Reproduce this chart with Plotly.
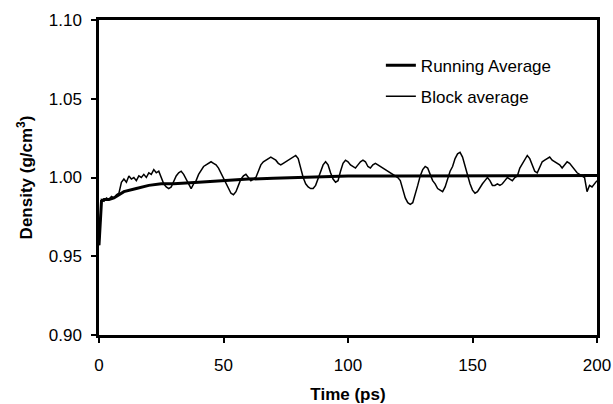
import plotly.graph_objects as go

time_block = [0, 0.5] + list(range(1, 201))
block_avg = [
    0.957, 0.975,
    0.986, 0.985, 0.987, 0.986, 0.988, 0.987, 0.989, 0.990, 0.997, 0.999,
    0.997, 1.001, 0.999, 1.000, 0.998, 1.001, 1.000, 1.002, 1.000, 1.003,
    1.002, 1.005, 1.003, 1.004, 1.000, 0.996, 0.994, 0.993, 0.994, 0.998,
    1.001, 1.003, 1.004, 1.002, 0.999, 0.996, 0.993, 0.996, 0.998, 1.002,
    1.005, 1.007, 1.008, 1.009, 1.010, 1.009, 1.008, 1.006, 1.003, 0.999,
    0.996, 0.993, 0.990, 0.989, 0.991, 0.995, 0.999, 1.001, 1.002, 1.000,
    0.998, 0.999, 1.000, 1.004, 1.008, 1.010, 1.011, 1.012, 1.013, 1.012,
    1.011, 1.009, 1.008, 1.009, 1.010, 1.011, 1.012, 1.013, 1.014, 1.012,
    1.006, 1.000, 0.996, 0.994, 0.993, 0.993, 0.995, 0.999, 1.003, 1.008,
    1.010, 1.008, 1.003, 0.999, 0.997, 0.998, 1.004, 1.009, 1.011, 1.010,
    1.008, 1.007, 1.006, 1.008, 1.010, 1.011, 1.010, 1.007, 1.006, 1.008,
    1.009, 1.008, 1.007, 1.006, 1.005, 1.004, 1.003, 1.002, 1.001, 1.000,
    0.998, 0.992, 0.987, 0.984, 0.983, 0.984, 0.989, 0.995, 1.001, 1.005,
    1.007, 1.006, 1.002, 0.998, 0.996, 0.993, 0.992, 0.991, 0.994, 0.999,
    1.004, 1.007, 1.012, 1.015, 1.016, 1.013, 1.007, 1.002, 0.996, 0.992,
    0.990, 0.991, 0.994, 0.996, 0.998, 1.000, 0.998, 0.995, 0.995, 0.996,
    0.995, 0.996, 0.998, 1.000, 0.999, 0.998, 1.000, 1.001, 1.006, 1.009,
    1.012, 1.014, 1.012, 1.008, 1.004, 1.003, 1.006, 1.010, 1.011, 1.012,
    1.013, 1.011, 1.010, 1.009, 1.008, 1.006, 1.008, 1.010, 1.009, 1.007,
    1.005, 1.003, 1.002, 1.001, 1.000, 0.991, 0.995, 0.994, 0.996, 0.998,
]

time_run = [0, 0.5, 1, 2, 4, 6, 8, 10, 15, 20, 25, 30, 40, 50, 60, 70, 80,
            90, 100, 120, 140, 160, 180, 200]
running_avg = [0.957, 0.975, 0.985, 0.986, 0.986, 0.987, 0.989, 0.991, 0.993,
               0.995, 0.996, 0.996, 0.997, 0.998, 0.999, 0.9995, 1.000,
               1.0005, 1.001, 1.001, 1.001, 1.0012, 1.0012, 1.0012]

x_ticks = [0, 50, 100, 150, 200]
y_ticks = [0.90, 0.95, 1.00, 1.05, 1.10]

FONT = "Liberation Sans, Arial, sans-serif"

fig = go.Figure()
fig.add_trace(go.Scatter(x=time_run, y=running_avg, mode="lines",
                         name="Running Average", legendgroup="a",
                         line=dict(color="black", width=3)))
fig.add_trace(go.Scatter(x=time_block, y=block_avg, mode="lines",
                         name="Block average", legendgroup="b",
                         line=dict(color="black", width=1.5)))

fig.update_layout(
    width=613, height=404,
    margin=dict(l=99, r=16, t=20, b=69),
    plot_bgcolor="white", paper_bgcolor="white",
    font=dict(family=FONT, size=17, color="black"),
    showlegend=True,
    legend=dict(x=0.566, y=0.912, xanchor="left", yanchor="top",
                bgcolor="rgba(0,0,0,0)", font=dict(size=17),
                traceorder="grouped", tracegroupgap=6),
    xaxis=dict(range=[0, 200], tickvals=x_ticks, ticks="outside", ticklen=5,
               tickcolor="black", tickwidth=1.5, showline=True,
               linecolor="black", automargin=False, ticklabelstandoff=8,
               linewidth=2.5, mirror=True, showgrid=False, zeroline=False,
               title=dict(text="<b>Time (ps)</b>", standoff=18,
                          font=dict(size=17))),
    yaxis=dict(range=[0.90, 1.10], tickvals=y_ticks, tickformat=".2f",
               ticks="outside", ticklen=5, tickcolor="black", tickwidth=1.5,
               showline=True, linecolor="black", linewidth=2.5, mirror=True,
               automargin=False, ticklabelstandoff=6,
               showgrid=False, zeroline=False,
               title=dict(text="<b>Density (g/cm<sup>3</sup>)</b>",
                          standoff=12, font=dict(size=17))),
)

fig.write_html("out.html")
